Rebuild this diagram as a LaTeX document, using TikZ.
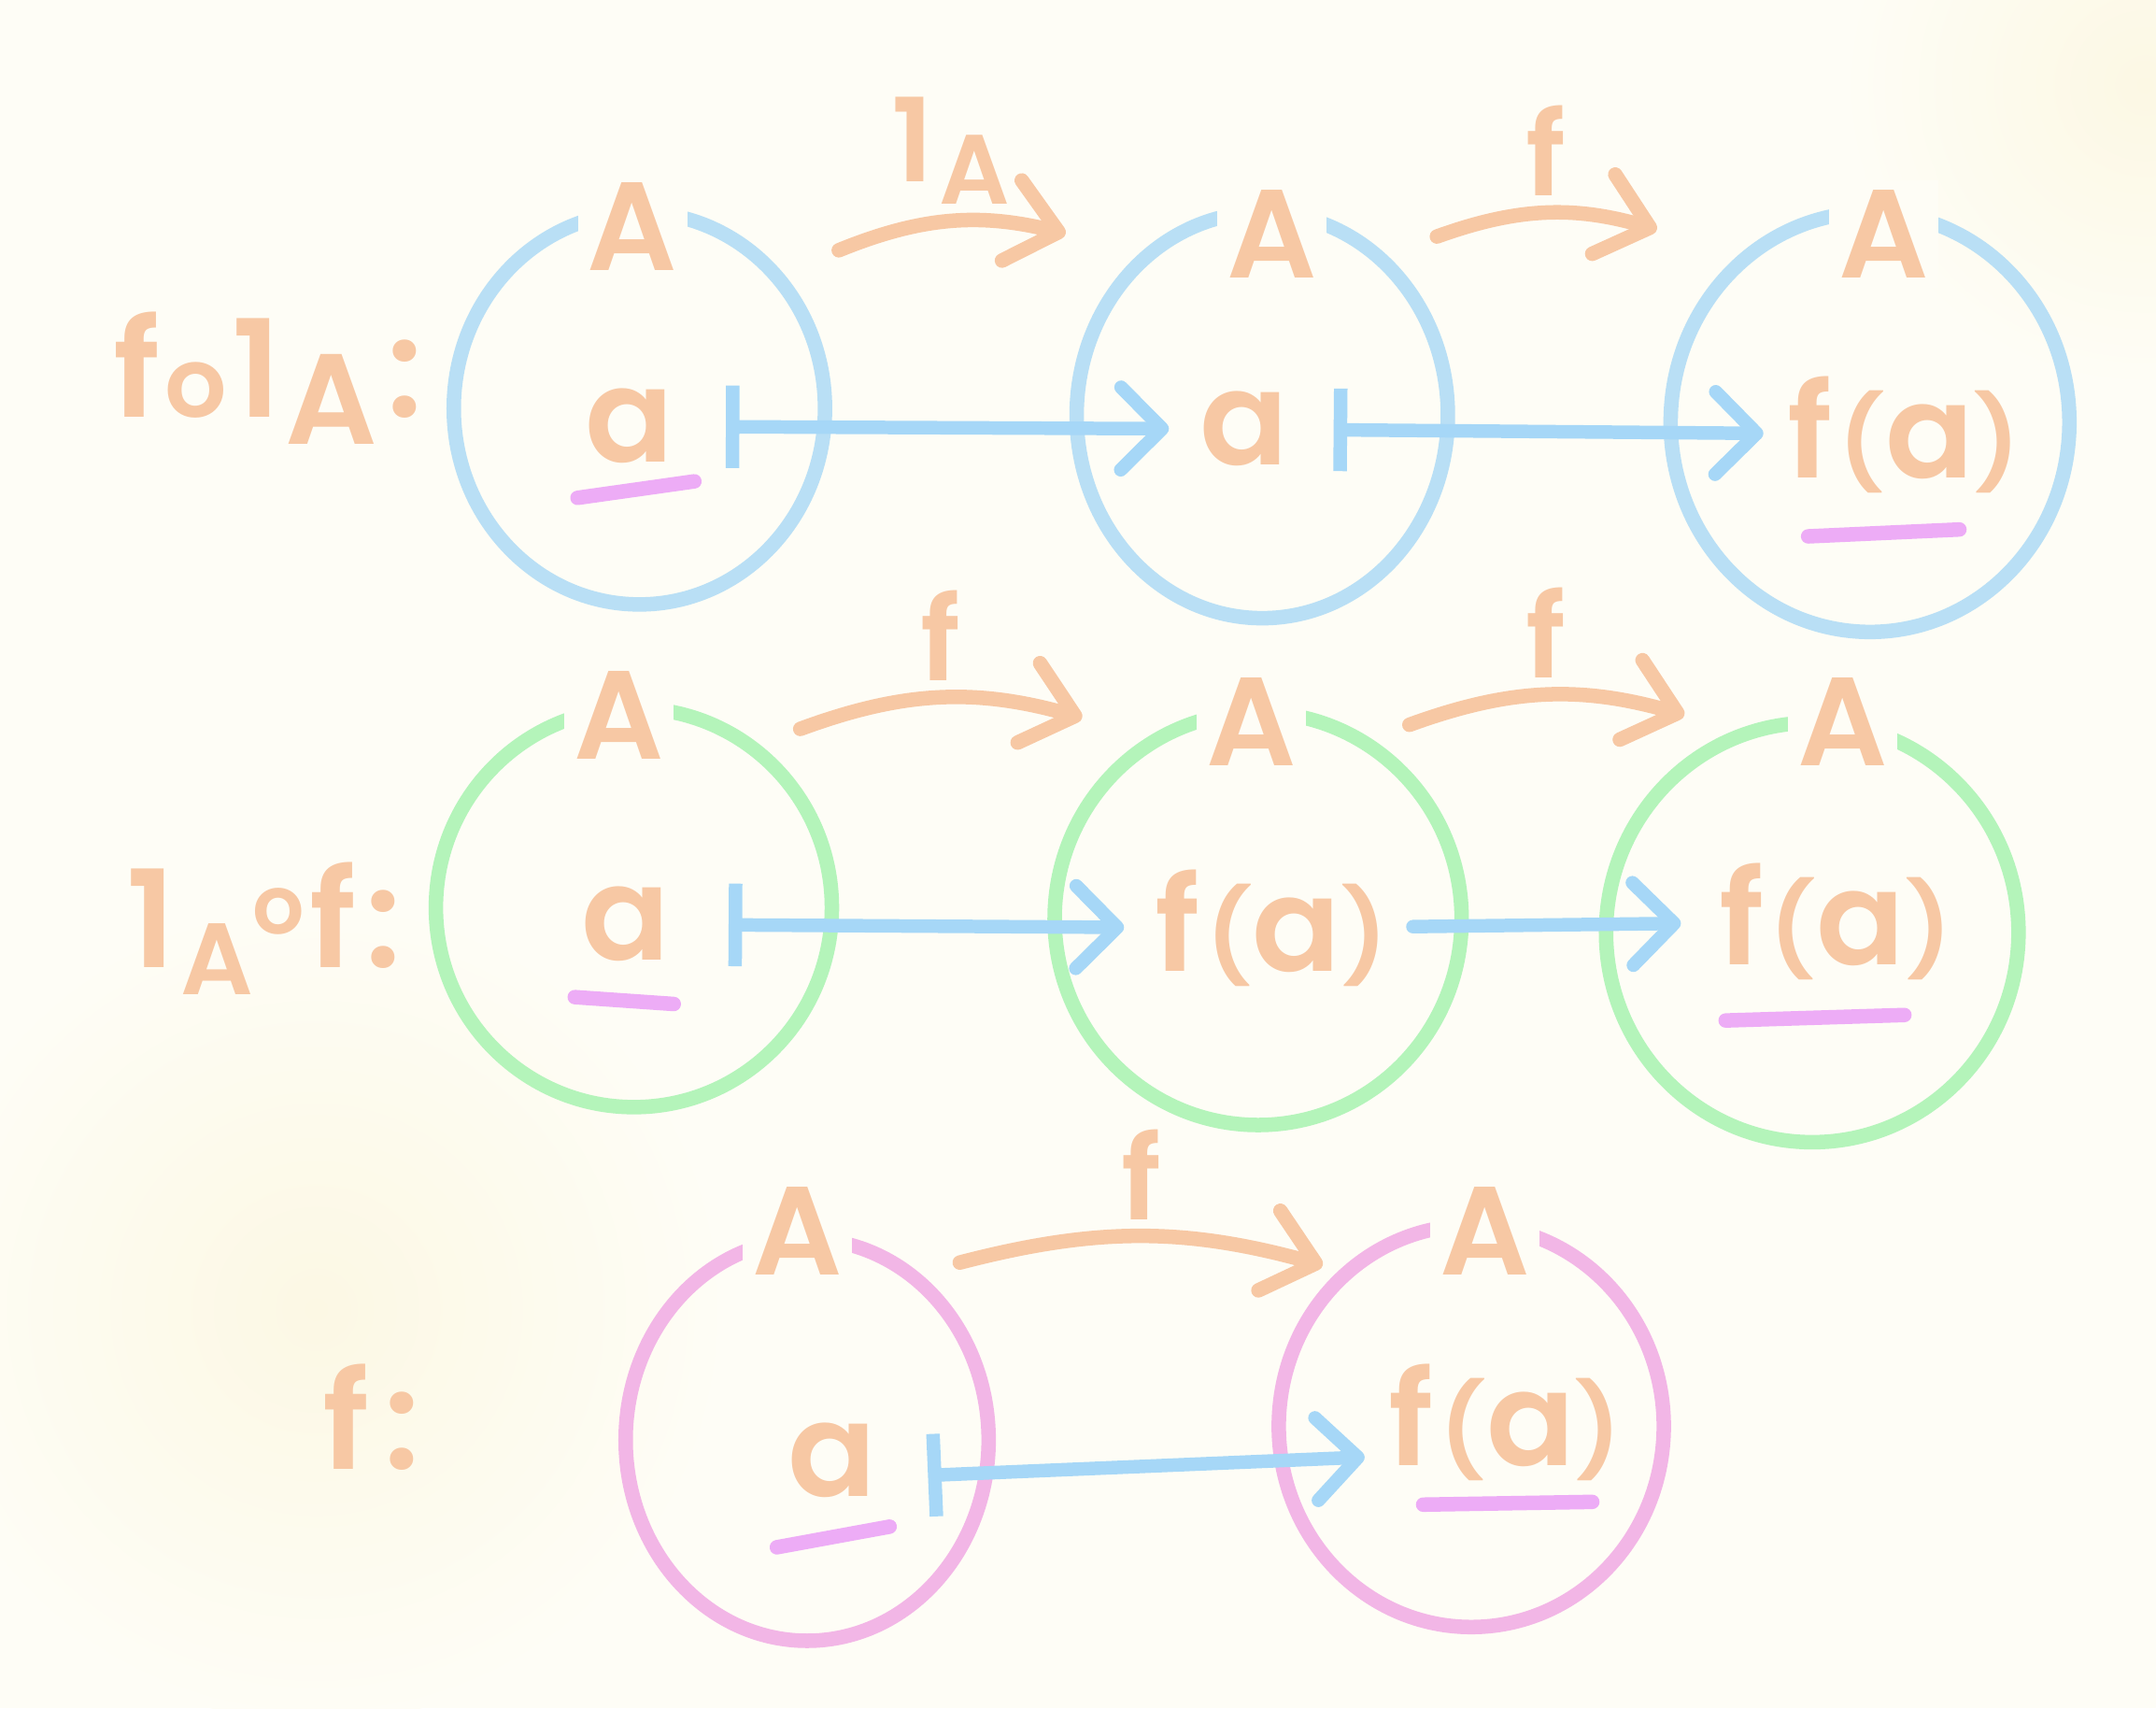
\documentclass[tikz,border=0pt]{standalone}
\usepackage{fontspec}
\setmainfont{Poppins}
\IfFontExistsTF{Poppins SemiBold}
  {\newfontfamily\hand{Poppins SemiBold}}
  {\IfFontExistsTF{Poppins Medium}
     {\newfontfamily\hand{Poppins Medium}}
     {\newfontfamily\hand{Poppins}[FakeBold=3]}}
\usetikzlibrary{shapes.geometric,arrows.meta}

\definecolor{peach}{RGB}{247,200,164}
\definecolor{setblue}{RGB}{185,223,245}
\definecolor{setgreen}{RGB}{180,244,186}
\definecolor{setpink}{RGB}{242,182,230}
\definecolor{mapblue}{RGB}{166,215,247}
\definecolor{marker}{RGB}{237,172,246}
\definecolor{paper}{RGB}{254,253,246}
\definecolor{glow}{RGB}{252,248,228}

% identity on A, with the small A set low
\newcommand{\idA}[1]{1\kern1pt\raisebox{-0.2em}{\scalebox{#1}{A}}}
% f(a) with short parentheses
\newcommand{\fa}{f\kern1pt\raisebox{0.02em}{\scalebox{0.75}[0.7]{(}}a\raisebox{0.02em}{\scalebox{0.75}[0.7]{)}}}

\begin{document}
\begin{tikzpicture}[
    set/.style={ellipse, draw, line width=3pt, inner sep=0pt},
    setname/.style={text=peach, fill=paper, inner sep=2pt, font=\hand\fontsize{26}{26}\selectfont},
    elem/.style={text=peach, inner sep=2pt, font=\hand\fontsize{27}{27}\selectfont},
    rowname/.style={text=peach, inner sep=0pt, font=\hand\fontsize{28}{28}\selectfont},
    mapsto/.style={draw=mapblue, line width=2.8pt, line cap=round,
        {Bar[width=0.6cm,line width=2.8pt]}-{Straight Barb[length=0.3cm,width=0.6cm,line cap=round,line join=round]}},
    mapto/.style={draw=mapblue, line width=2.8pt, line cap=round,
        -{Straight Barb[length=0.3cm,width=0.6cm,line cap=round,line join=round]}},
    fun/.style={draw=peach, line width=3pt, line cap=round,
        -{Straight Barb[length=0.35cm,width=0.6cm,line cap=round,line join=round]}},
    funname/.style={text=peach, inner sep=1pt, font=\hand\fontsize{24}{24}\selectfont},
    uline/.style={draw=marker, line width=3pt, line cap=round}
]
    % paper
    \fill[paper] (0,0) rectangle (15.68,12.42);
    \useasboundingbox (0,0) rectangle (15.68,12.42);
    \shade[inner color=glow, outer color=paper] (2.3,2.9) circle (3);
    \shade[inner color=glow, outer color=paper] (15.6,11.8) circle (2.2);

    % ---- row 1: f o 1A ----
    \node[set, draw=setblue, minimum width=2.70cm, minimum height=2.85cm] (S11) at (4.65,9.45) {};
    \node[set, draw=setblue, minimum width=2.70cm, minimum height=2.95cm] (S12) at (9.18,9.40) {};
    \node[set, draw=setblue, minimum width=2.90cm, minimum height=3.05cm] (S13) at (13.60,9.35) {};
    \node[setname] (A11) at (4.60,10.77) {A};
    \node[setname] (A12) at (9.25,10.72) {A};
    \node[setname] (A13) at (13.70,10.72) {A};

    \node[rowname] (L1) at (1.95,9.67) {f\kern1pt\scalebox{0.72}{o}\kern1pt\idA{0.95}\kern2pt:};

    \node[elem] (e11) at (4.58,9.32) {a};
    \node[elem] (e12) at (9.05,9.30) {a};
    \node[elem] (e13) at (13.85,9.26) {\fa};
    \draw[uline] ([shift={(-0.38,-0.52)}]e11.center) -- ([shift={(0.47,-0.40)}]e11.center);
    \draw[uline] ([shift={(-0.70,-0.74)}]e13.center) -- ([shift={(0.40,-0.69)}]e13.center);

    \draw[mapsto, shorten <=0.3cm, shorten >=0.15cm] (e11) -- (e12);
    \draw[mapsto, shorten <=0.25cm, shorten >=0.1cm] (e12) -- (e13);

    \coordinate (m1s) at (6.10,10.60);
    \coordinate (m1e) at (7.75,10.72);
    \draw[fun] (m1s) to[bend left=18] node[funname, midway, above=1pt] (n1) {\idA{0.85}} (m1e);
    \coordinate (m2s) at (10.45,10.70);
    \coordinate (m2e) at (12.05,10.75);
    \draw[fun] (m2s) to[bend left=18] node[funname, midway, above=1pt] (n2) {f} (m2e);

    % ---- row 2: 1A o f ----
    \node[set, draw=setgreen, minimum width=2.88cm, minimum height=2.90cm] (S21) at (4.61,5.82) {};
    \node[set, draw=setgreen, minimum width=2.96cm, minimum height=3.00cm] (S22) at (9.15,5.74) {};
    \node[set, draw=setgreen, minimum width=3.00cm, minimum height=3.05cm] (S23) at (13.18,5.64) {};
    \node[setname] (A21) at (4.50,7.22) {A};
    \node[setname] (A22) at (9.10,7.17) {A};
    \node[setname] (A23) at (13.40,7.17) {A};

    \node[rowname] (L2) at (1.92,5.67) {\idA{0.75}\raisebox{0.25em}{\scalebox{0.6}{o}}\kern1pt f\kern2pt:};

    \node[elem] (e21) at (4.55,5.70) {a};
    \node[elem] (e22) at (9.25,5.67) {\fa};
    \node[elem] (e23) at (13.35,5.72) {\fa};
    \draw[uline] ([shift={(-0.37,-0.53)}]e21.center) -- ([shift={(0.35,-0.58)}]e21.center);
    \draw[uline] ([shift={(-0.80,-0.72)}]e23.center) -- ([shift={(0.50,-0.68)}]e23.center);

    \draw[mapsto, shorten <=0.35cm, shorten >=0.15cm] (e21) -- (e22);
    \draw[mapto, shorten <=0.1cm, shorten >=0.2cm] (e22) -- (e23);

    \coordinate (m3s) at (5.82,7.12);
    \coordinate (m3e) at (7.87,7.20);
    \draw[fun] (m3s) to[bend left=18] node[funname, midway, above=1pt] (n3) {f} (m3e);
    \coordinate (m4s) at (10.25,7.15);
    \coordinate (m4e) at (12.25,7.22);
    \draw[fun] (m4s) to[bend left=18] node[funname, midway, above=1pt] (n4) {f} (m4e);

    % ---- row 3: f ----
    \node[set, draw=setpink, minimum width=2.64cm, minimum height=2.92cm] (S31) at (5.87,1.95) {};
    \node[set, draw=setpink, minimum width=2.80cm, minimum height=2.92cm] (S32) at (10.70,2.05) {};
    \node[setname] (A31) at (5.80,3.47) {A};
    \node[setname] (A32) at (10.80,3.47) {A};

    \node[rowname] (L3) at (2.70,2.12) {f\kern3pt:};

    \node[elem] (e31) at (6.05,1.80) {a};
    \node[elem] (e32) at (10.95,2.08) {\fa};
    \draw[uline] ([shift={(-0.40,-0.63)}]e31.center) -- ([shift={(0.42,-0.48)}]e31.center);
    \draw[uline] ([shift={(-0.60,-0.60)}]e32.center) -- ([shift={(0.63,-0.58)}]e32.center);

    \draw[mapsto, shorten <=0.3cm, shorten >=0.1cm] ([yshift=-0.12cm]e31.east) -- ([yshift=-0.25cm]e32.west);

    \coordinate (m5s) at (6.98,3.24);
    \coordinate (m5e) at (9.62,3.22);
    \draw[fun] (m5s) to[bend left=15] node[funname, midway, above=1pt] (n5) {f} (m5e);
\end{tikzpicture}
\end{document}
